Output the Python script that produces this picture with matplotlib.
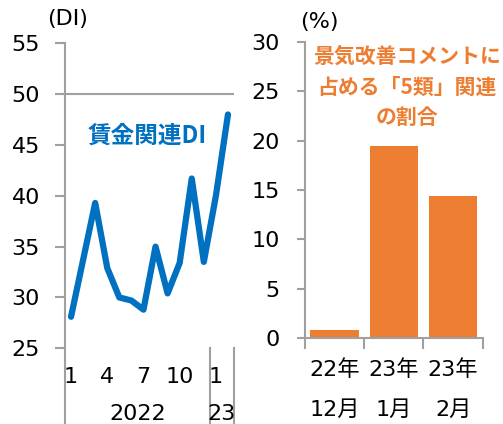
import matplotlib
matplotlib.use("Agg")
import matplotlib.pyplot as plt
import matplotlib.transforms as mtransforms

plt.rcParams['font.family'] = ['DejaVu Sans', 'Noto Sans CJK JP']

# ---- data ----
months = ["1", "2", "3", "4", "5", "6", "7", "8", "9", "10", "11", "12", "1", "2"]
month_ticks = ["1", "4", "7", "10", "1"]
month_tick_idx = [0, 3, 6, 9, 12]
wage_di = [28.1, 33.7, 39.3, 32.9, 30.0, 29.7, 28.8, 35.0, 30.4, 33.4, 41.7, 33.5, 40.0, 48.0]
year_labels = ["2022", "23"]

bar_cats_year = ["22年", "23年", "23年"]
bar_cats_month = ["12月", "1月", "2月"]
bar_vals = [0.8, 19.4, 14.4]

BLUE = "#0070C0"
ORANGE = "#ED7D31"
GRAY = "#A0A0A0"
W, H = 503, 424

fig = plt.figure(figsize=(W / 100, H / 100), dpi=100)

def fx(px):
    return px / W

def fy(py):
    return 1 - py / H

# ---- left chart ----
axL = fig.add_axes([fx(65), fy(348.3), fx(234) - fx(65), fy(43.3) - fy(348.3)])
x = list(range(len(wage_di)))
axL.plot(x, wage_di, color=BLUE, lw=4.5, solid_joinstyle='round',
         solid_capstyle='round', zorder=3)
axL.set_xlim(-0.5, len(wage_di) - 0.5)
axL.set_ylim(25, 55)
axL.set_yticks([25, 30, 35, 40, 45, 50, 55])
axL.axhline(50, color=GRAY, lw=1.5, zorder=1)
for s in ["top", "right", "bottom"]:
    axL.spines[s].set_visible(False)
axL.spines["left"].set_color(GRAY)
axL.spines["left"].set_linewidth(1.5)
axL.tick_params(axis='y', direction='out', length=7, width=1.5, color=GRAY,
                labelsize=16, pad=11)
axL.set_xticks([])
tr = mtransforms.blended_transform_factory(axL.transData, axL.transAxes)
for i, lab in zip(month_tick_idx, month_ticks):
    axL.text(i, -0.095, lab, transform=tr, ha='center', va='center', fontsize=16)
axL.text(5.5, -0.216, year_labels[0], transform=tr, ha='center', va='center', fontsize=16)
axL.text(12.5, -0.216, year_labels[1], transform=tr, ha='center', va='center', fontsize=16)
# group separators
axL.plot([-0.5, -0.5], [0, -0.3], transform=tr, color=GRAY, lw=1.5, clip_on=False)
axL.plot([11.5, 11.5], [0, -0.3], transform=tr, color=GRAY, lw=1.5, clip_on=False)
axL.plot([13.5, 13.5], [0, -0.3], transform=tr, color=GRAY, lw=1.5, clip_on=False)
fig.text(fx(88), fy(136), "賃金関連DI", color=BLUE, fontsize=17, fontweight='bold',
         ha='left', va='center', family=['Noto Sans CJK JP'])
fig.text(fx(47), fy(19), "(DI)", fontsize=16, ha='left', va='center')

# ---- right chart ----
axR = fig.add_axes([fx(305), fy(338.3), fx(482.7) - fx(305), fy(41.7) - fy(338.3)])
bx = list(range(len(bar_vals)))
axR.bar(bx, bar_vals, width=0.82, color=ORANGE, zorder=2)
axR.set_xlim(-0.5, len(bar_vals) - 0.5)
axR.set_ylim(0, 30)
axR.set_yticks([0, 5, 10, 15, 20, 25, 30])
for s in ["top", "right"]:
    axR.spines[s].set_visible(False)
for s in ["left", "bottom"]:
    axR.spines[s].set_color(GRAY)
    axR.spines[s].set_linewidth(1.5)
axR.tick_params(axis='y', direction='out', length=6, width=1.5, color=GRAY,
                labelsize=16, pad=12)
axR.set_xticks([b - 0.5 for b in bx] + [len(bar_vals) - 0.5])
axR.set_xticklabels([])
axR.tick_params(axis='x', direction='out', length=8, width=1.5, color=GRAY)
trR = mtransforms.blended_transform_factory(axR.transData, axR.transAxes)
for i in bx:
    axR.text(i, -0.107, bar_cats_year[i], transform=trR, ha='center', va='center', fontsize=16)
    axR.text(i, -0.24, bar_cats_month[i], transform=trR, ha='center', va='center', fontsize=16)
fig.text(fx(300), fy(22), "(%)", fontsize=16, ha='left', va='center')
title_lines = ["景気改善コメントに", "占める「5類」関連", "の割合"]
for ln, yy in zip(title_lines, [56, 87.5, 117]):
    fig.text(fx(407), fy(yy), ln, color=ORANGE, fontsize=15, fontweight='bold',
             ha='center', va='center', family=['Noto Sans CJK JP'])

fig.savefig("out.png", dpi=100)
